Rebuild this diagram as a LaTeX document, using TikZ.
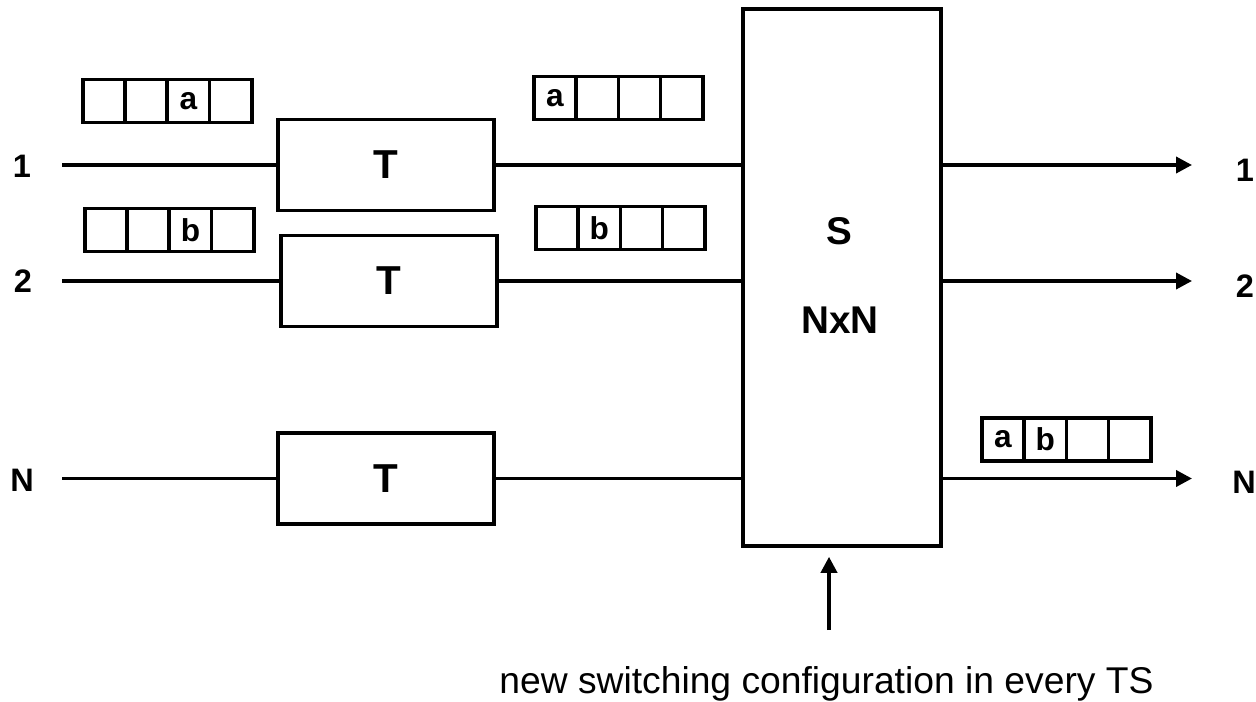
\documentclass[tikz,border=0pt]{standalone}
\usepackage{fontspec}
\setmainfont{Liberation Sans}
\usetikzlibrary{positioning,arrows.meta,calc}

\tikzset{
  wire/.style={line width=2.1pt},
  tip/.style={-{Triangle[length=0.32cm,width=0.32cm]}},
  tbox/.style={draw, line width=2.1pt, inner sep=0pt,
    minimum width=4.32cm, minimum height=1.82cm,
    font=\fontsize{23}{26}\selectfont\bfseries},
  cell/.style={draw, line width=2.1pt, anchor=west, inner sep=0pt,
    minimum width=0.845cm, minimum height=0.86cm,
    font=\fontsize{18}{20}\selectfont\bfseries},
  lbl/.style={anchor=base, font=\fontsize{18.5}{21}\selectfont\bfseries},
  slbl/.style={anchor=base, font=\fontsize{22}{25}\selectfont\bfseries},
}
% a frame of four time slots: name, x, y, entries
\newcommand{\slotrow}[4]{%
  \foreach \c [count=\i from 0] in {#4}
    \node[cell] (#1-\i) at (#2+\i*42.25,#3) {\c};
}

\begin{document}
\begin{tikzpicture}[x=0.02cm,y=-0.02cm]
  \useasboundingbox (0,0) rectangle (1256,702);

  % time stages
  \node[tbox] (T1) at (386,165) {T};
  \node[tbox] (T2) at (389,281) {T};
  \node[tbox] (T3) at (386,478.5) {T};

  % space stage
  \node[draw, line width=2.1pt, minimum width=3.96cm, minimum height=10.74cm] (S) at (842,277.5) {};
  \node[slbl] (sname) at (839,245) {S};
  \node[slbl] (sdim) at (840,333) {NxN};

  % frames
  \slotrow{ain}{81}{101}{{},{},a,{}}
  \slotrow{bin}{83}{230}{{},{},b,{}}
  \slotrow{aout}{532}{98}{a,{},{},{}}
  \slotrow{bout}{534}{228}{{},b,{},{}}
  \slotrow{about}{980}{439.5}{a,b,{},{}}

  % inputs
  \node[lbl] (i1) at (22,178) {1};
  \node[lbl] (i2) at (23,293) {2};
  \node[lbl] (iN) at (22,491) {N};
  \coordinate (in1) at (62,165);
  \coordinate (in2) at (62,281);
  \coordinate (inN) at (62,478.5);
  \draw[wire] (in1) -- (T1.west);
  \draw[wire] (in2) -- (T2.west);
  \draw[wire] (inN) -- (T3.west);
  \draw[wire] (T1.east) -- (T1.east -| S.west);
  \draw[wire] (T2.east) -- (T2.east -| S.west);
  \draw[wire] (T3.east) -- (T3.east -| S.west);

  % outputs
  \coordinate (out1) at (1192,165);
  \coordinate (out2) at (1192,281);
  \coordinate (outN) at (1192,478.5);
  \draw[wire,tip] (out1 -| S.east) -- (out1);
  \draw[wire,tip] (out2 -| S.east) -- (out2);
  \draw[wire,tip] (outN -| S.east) -- (outN);
  \node[lbl] (o1) at (1245,182) {1};
  \node[lbl] (o2) at (1245,297) {2};
  \node[lbl] (oN) at (1244,493) {N};

  % control
  \coordinate (ctl) at (829,630);
  \draw[wire,tip,shorten >=0.18cm] (ctl) -- (ctl |- S.south);
  \node[anchor=base, font=\fontsize{21.2}{25}\selectfont] (cfg) at (826.5,693)
    {new switching configuration in every TS};
\end{tikzpicture}
\end{document}
